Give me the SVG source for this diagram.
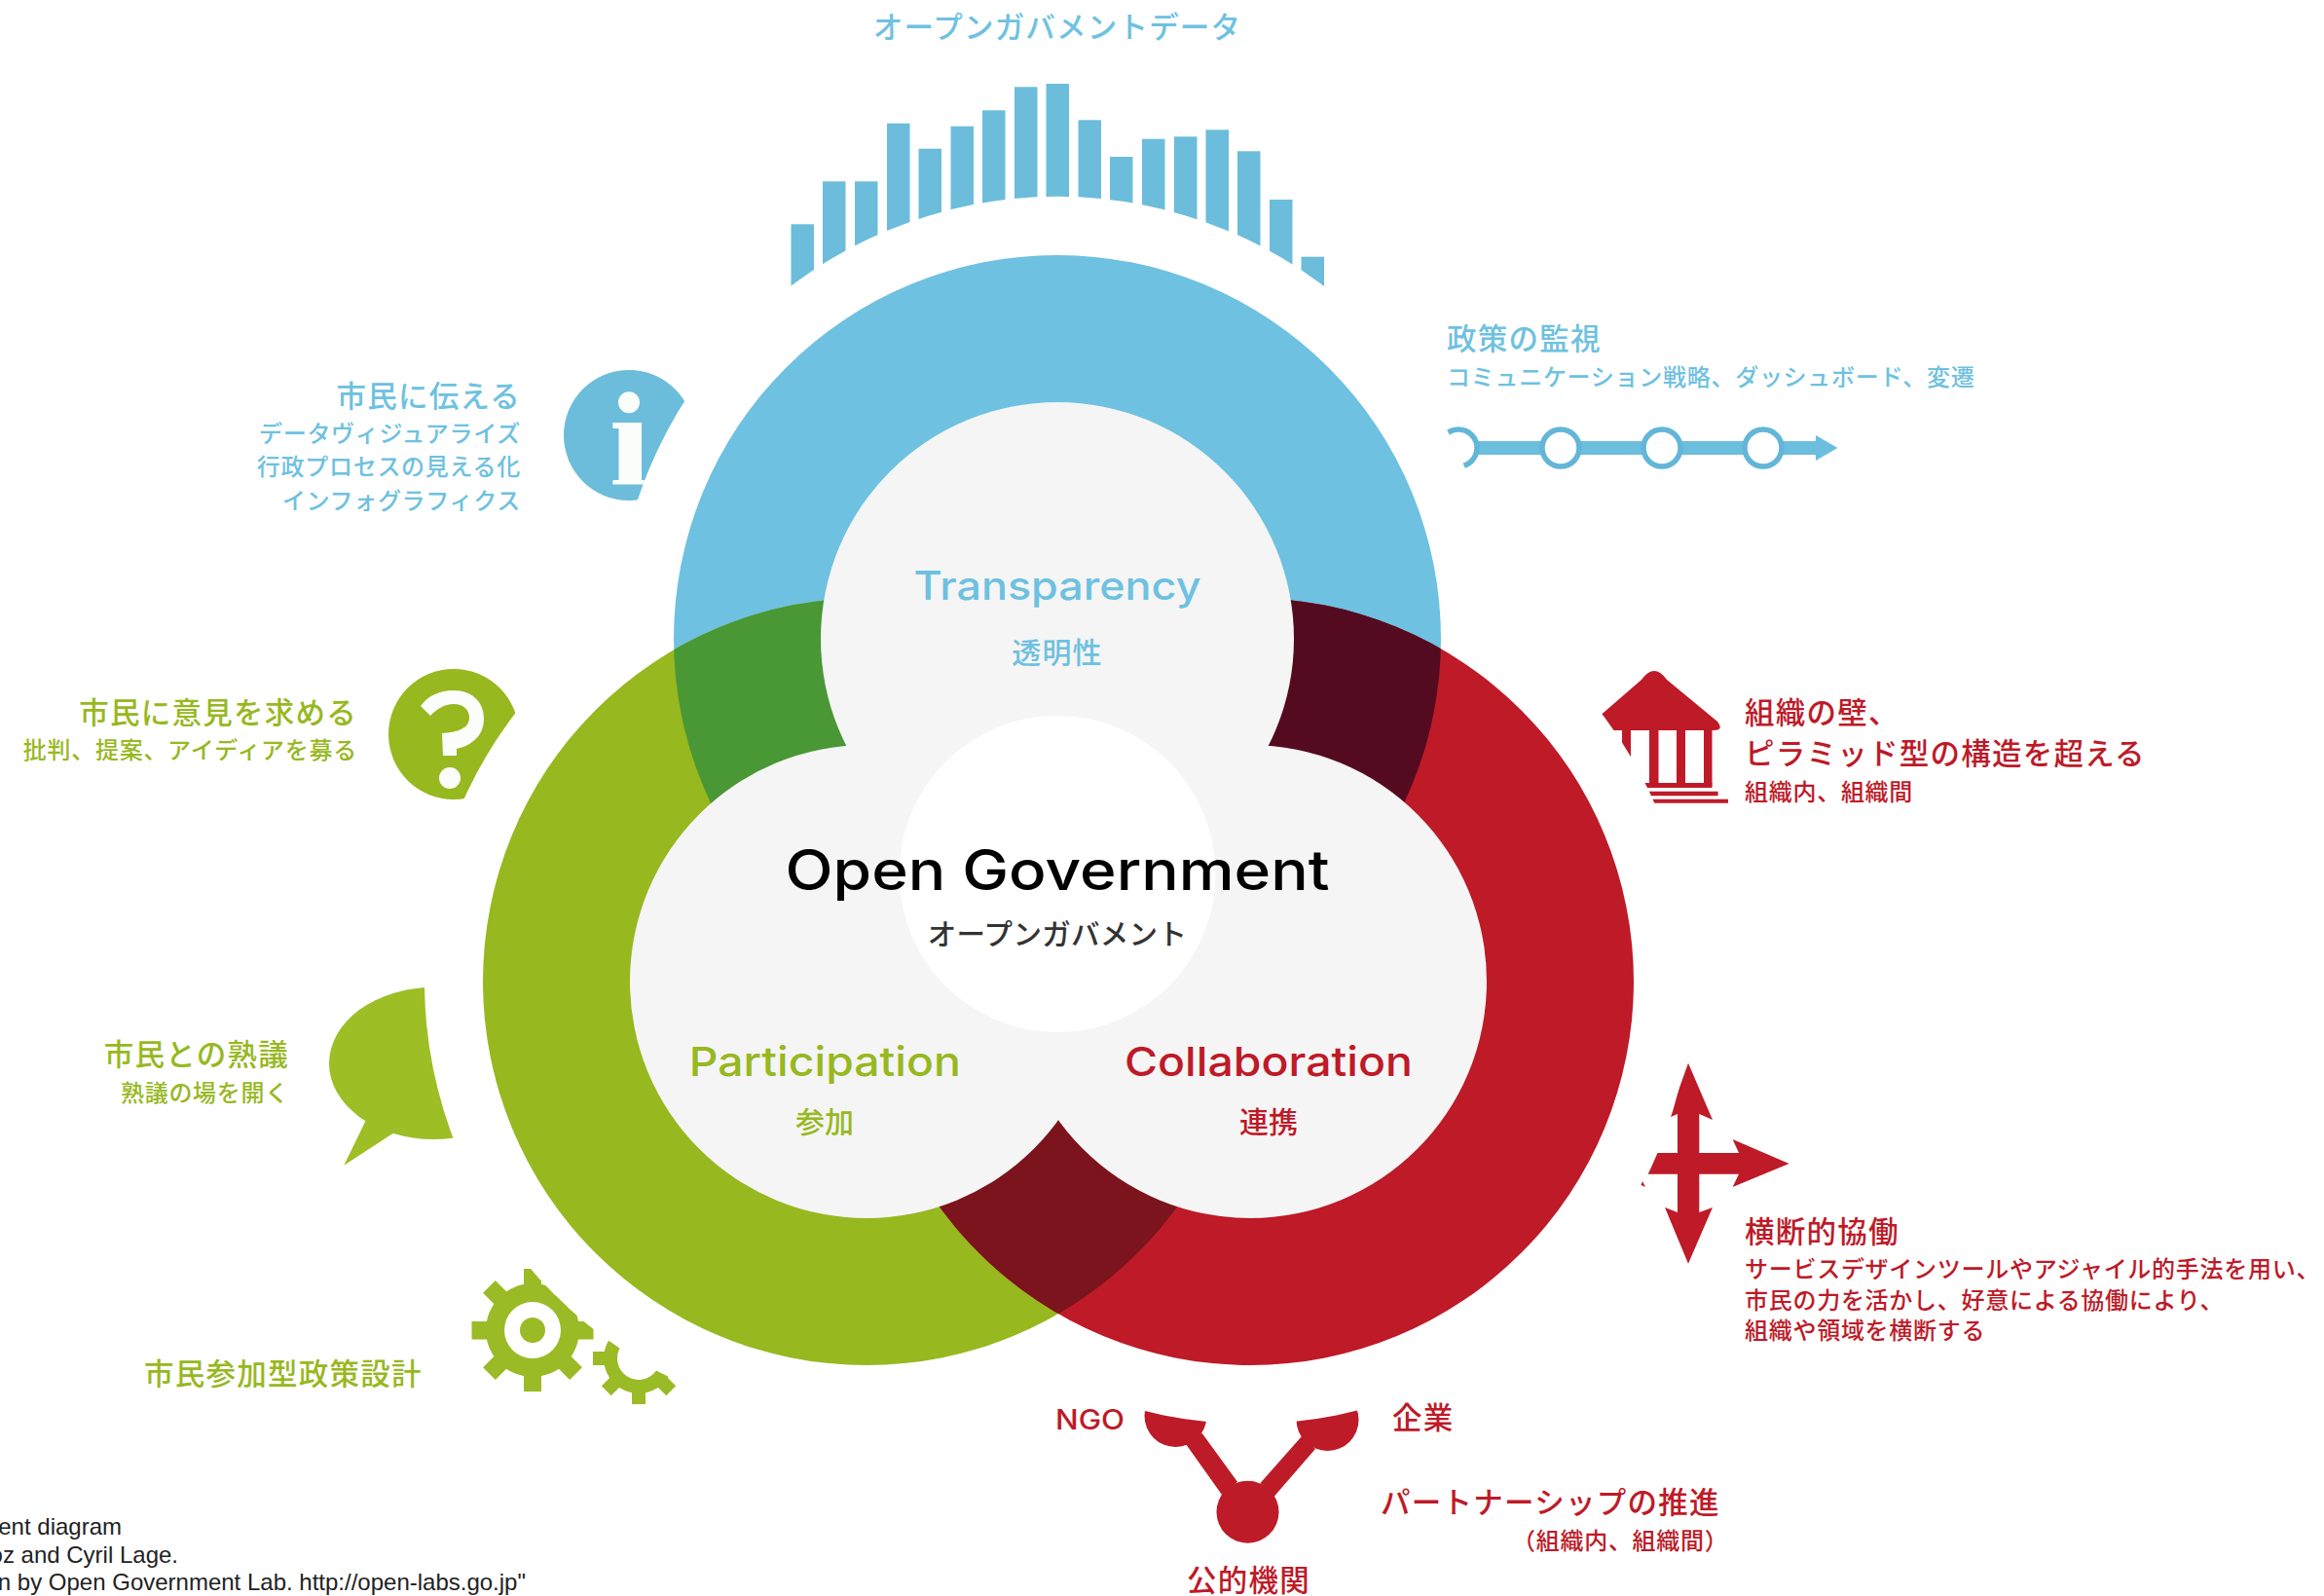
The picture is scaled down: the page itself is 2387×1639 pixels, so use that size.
<svg xmlns="http://www.w3.org/2000/svg" width="2387" height="1639" viewBox="0 0 2387 1639">
<style>
text{font-family:"Noto Sans CJK JP","Noto Sans",sans-serif;font-weight:500}
.l{font-size:30.5px;letter-spacing:1.25px}
.s{font-size:24px;letter-spacing:.72px}
.e{text-anchor:end}.m{text-anchor:middle}
.b{fill:#6ec1e0}.g{fill:#97b81f}.r{fill:#be1a28}
.lat{font-family:Inter,"Noto Sans",sans-serif;font-weight:500}
.cr{font-family:"Liberation Sans",Arial,sans-serif;font-weight:400;font-size:24px;fill:#222;text-anchor:end}
.wh{fill:#fff}.ic{fill:#fbfdfb}
.gw{fill:#f5f5f5}
</style>
<defs>
<clipPath id="inB"><circle cx="1086" cy="656" r="394"/></clipPath>
<clipPath id="inR"><circle cx="1284" cy="1008" r="394"/></clipPath>
<clipPath id="outB"><path clip-rule="evenodd" d="M0 0H2387V1639H0ZM632 656a454 454 0 1 0 908 0a454 454 0 1 0 -908 0Z"/></clipPath>
<clipPath id="outG"><path clip-rule="evenodd" d="M0 0H2387V1639H0ZM436 1008a454 454 0 1 0 908 0a454 454 0 1 0 -908 0Z"/></clipPath>
<clipPath id="outR"><path clip-rule="evenodd" d="M0 0H2387V1639H0ZM830 1008a454 454 0 1 0 908 0a454 454 0 1 0 -908 0Z"/></clipPath>
</defs>

<g id="venn">
<circle class="b" cx="1086" cy="656" r="394"/>
<circle class="g" cx="890" cy="1008" r="394"/>
<circle class="r" cx="1284" cy="1008" r="394"/>
<circle cx="890" cy="1008" r="394" fill="#4a9735" clip-path="url(#inB)"/>
<circle cx="1284" cy="1008" r="394" fill="#540b20" clip-path="url(#inB)"/>
<circle cx="890" cy="1008" r="394" fill="#7b141c" clip-path="url(#inR)"/>
<circle class="gw" cx="1086" cy="656" r="243"/>
<circle class="gw" cx="890" cy="1008" r="243"/>
<circle class="gw" cx="1284" cy="1008" r="243"/>
<path class="gw" d="M869 766L1303 766L1086 1150Z"/>
<circle class="wh" cx="1086" cy="897.500" r="162.500"/>
</g>

<g id="center-labels">
<text class="lat m" x="1086" y="616" font-size="40.500" textLength="295" lengthAdjust="spacingAndGlyphs" fill="#6ec1e0">Transparency</text>
<text class="m b" x="1086" y="681" font-size="30" letter-spacing="1.200">透明性</text>
<text class="lat m" x="1086" y="914" font-size="57" textLength="559" lengthAdjust="spacingAndGlyphs" fill="#000">Open Government</text>
<text class="m" x="1086" y="970" font-size="29.500" letter-spacing=".3" fill="#333">オープンガバメント</text>
<text class="lat m" x="847.300" y="1105" font-size="41" textLength="279" lengthAdjust="spacingAndGlyphs" fill="#97b81f">Participation</text>
<text class="m g" x="847" y="1163" font-size="30">参加</text>
<text class="lat m" x="1303" y="1105" font-size="41" textLength="296" lengthAdjust="spacingAndGlyphs" fill="#be1a28">Collaboration</text>
<text class="m r" x="1303" y="1163" font-size="30">連携</text>
</g>

<g id="open-data">
<text class="m" x="1086" y="39" font-size="30.500" letter-spacing="1.200" fill="#6ec1e0">オープンガバメントデータ</text>
<g fill="#6cbddb" clip-path="url(#outB)">
<rect x="812.500" y="230.300" width="23.500" height="80"/>
<rect x="845" y="186.300" width="23.500" height="120"/>
<rect x="878" y="186.300" width="23.500" height="120"/>
<rect x="911" y="126.700" width="23.500" height="150"/>
<rect x="943.500" y="152.700" width="23.500" height="120"/>
<rect x="976.500" y="129.700" width="23.500" height="120"/>
<rect x="1009" y="113.300" width="23.500" height="120"/>
<rect x="1042" y="89.300" width="23.500" height="130"/>
<rect x="1074.500" y="86" width="23.500" height="130"/>
<rect x="1107.500" y="123.300" width="23.500" height="100"/>
<rect x="1140" y="161" width="23.500" height="70"/>
<rect x="1173" y="142.700" width="23.500" height="100"/>
<rect x="1206" y="140.300" width="23.500" height="110"/>
<rect x="1238.500" y="133.300" width="23.500" height="130"/>
<rect x="1271" y="155.300" width="23.500" height="120"/>
<rect x="1304" y="205" width="23.500" height="110"/>
<rect x="1336.500" y="263.700" width="23.500" height="90"/>
</g>
</g>

<g id="monitoring">
<text class="l b" x="1486" y="359">政策の監視</text>
<text class="s b" x="1486" y="396">コミュニケーション戦略、ダッシュボード、変遷</text>
<g clip-path="url(#outB)">
<path fill="#6bbede" d="M1500 453H1865V447L1887.500 460L1865 473V467H1500Z"/>
<g fill="#fff" stroke="#62b6d8" stroke-width="5.500">
<circle cx="1498" cy="460" r="19"/>
<circle cx="1603" cy="460" r="19"/>
<circle cx="1707" cy="460" r="19"/>
<circle cx="1811" cy="460" r="19"/>
</g>
</g>
</g>

<g id="inform">
<text class="l b e" x="535" y="418">市民に伝える</text>
<text class="s b e" x="535" y="454">データヴィジュアライズ</text>
<text class="s b e" x="535" y="488">行政プロセスの見える化</text>
<text class="s b e" x="535" y="523">インフォグラフィクス</text>
<g clip-path="url(#outB)">
<ellipse cx="646" cy="447" rx="67" ry="67" fill="#6cbddb"/>
<ellipse class="ic" cx="646" cy="413.300" rx="11" ry="11"/>
<path class="ic" d="M629.400 434H659V493H662V497.500H629.400V493H635.500V440H629.400Z"/>
</g>
</g>

<g id="ask">
<text class="l g e" x="367" y="743">市民に意見を求める</text>
<text class="s g e" x="367" y="779">批判、提案、アイディアを募る</text>
<g clip-path="url(#outG)">
<circle class="g" cx="466" cy="754" r="67"/>
<path class="ic" d="M432 725C440 714 452 709 466 709C485 709 497 721 497 738C497 755 486 765 469 769L469 776L455 776L454 753C470 752 482 748 482 737C482 728 475 723 466 723C456 723 449 728 442 735Z"/>
<ellipse class="ic" cx="462" cy="799" rx="11" ry="11"/>
</g>
</g>

<g id="deliberation">
<text class="l e" x="297" y="1094" fill="#97b81f">市民との熟議</text>
<text class="s e" x="297" y="1131" fill="#97b81f">熟議の場を開く</text>
<g clip-path="url(#outG)" fill="#9dbe25">
<ellipse cx="445" cy="1092" rx="107" ry="78"/>
<path d="M376 1150L353.300 1196.700L405 1163Z"/>
</g>
</g>

<g id="policy-design">
<text class="l g" x="148" y="1422">市民参加型政策設計</text>
<g clip-path="url(#outG)" fill="#9abb25">
<circle cx="547" cy="1366" r="48"/>
<path d="M538 1303h18v126h-18zM484.500 1357h125v18.500h-125z"/>
<path d="M538 1303h18v126h-18z" transform="rotate(45 547 1366)"/>
<path d="M538 1303h18v126h-18z" transform="rotate(-45 547 1366)"/>
<circle class="wh" cx="547" cy="1366" r="29"/>
<circle cx="547" cy="1366" r="13"/>
<path fill-rule="evenodd" d="M620 1395a36 36 0 1 0 72 0a36 36 0 1 0 -72 0ZM634 1395a22 22 0 1 0 44 0a22 22 0 1 0 -44 0Z"/>
<path d="M649 1348h14v17h-14zM649 1425h14v17h-14zM609 1388h17v14h-17zM686 1388h17v14h-17z"/>
<path d="M649 1348h14v17h-14zM649 1425h14v17h-14z" transform="rotate(45 656 1395)"/>
<path d="M649 1348h14v17h-14zM649 1425h14v17h-14z" transform="rotate(-45 656 1395)"/>
</g>
</g>

<g id="wall">
<text class="l r" x="1792" y="743">組織の壁、</text>
<text class="l r" x="1792" y="785">ピラミッド型の構造を超える</text>
<text class="s r" x="1792" y="822">組織内、組織間</text>
<g clip-path="url(#outR)" class="r">
<path d="M1626 750L1686 698Q1699 680 1712 698L1764 741Q1771 750 1760 750Z"/>
<rect x="1666" y="745" width="9" height="40"/>
<rect x="1694" y="745" width="9.500" height="62"/>
<rect x="1722" y="745" width="9" height="62"/>
<rect x="1750" y="745" width="8.500" height="62"/>
<path d="M1689 804H1758.500V809H1691.500Z"/>
<path d="M1692.700 812.700H1764.600V817.300H1695Z"/>
<path d="M1696.500 820.700H1775V824.700H1698Z"/>
</g>
</g>

<g id="cross">
<text class="l r" x="1792" y="1276">横断的協働</text>
<text class="s r" x="1792" y="1312">サービスデザインツールやアジャイル的手法を用い、</text>
<text class="s r" x="1792" y="1344">市民の力を活かし、好意による協働により、</text>
<text class="s r" x="1792" y="1375">組織や領域を横断する</text>
<path clip-path="url(#outR)" class="r" d="M1734 1091.700L1759 1150L1745.300 1144V1184H1786L1779.600 1170L1837.600 1195L1779.600 1219L1786 1205.700H1745.300V1245L1759 1240L1734 1297.700L1710 1240L1723 1245V1205.700H1680V1184H1723V1144L1713.800 1148Z"/>
<path class="r" d="M1687 1213L1690 1219L1685.500 1217Z"/>
</g>

<g id="partnership">
<text class="lat" x="1084" y="1467.500" font-size="28" textLength="71" lengthAdjust="spacingAndGlyphs" fill="#be1a28">NGO</text>
<text class="l r" x="1430" y="1467">企業</text>
<text class="l r" x="1418" y="1554">パートナーシップの推進</text>
<text class="s r" x="1553" y="1591">（組織内、組織間）</text>
<text class="l r" x="1219" y="1634">公的機関</text>
<g clip-path="url(#outR)" fill="#bd1b27">
<circle cx="1207.500" cy="1454" r="32"/>
<circle cx="1363.500" cy="1458" r="32"/>
</g>
<path fill="#bd1b27" d="M1234.600 1471.700L1218 1483L1255 1535L1271 1521.700ZM1337 1475L1351 1488L1308.700 1536.700L1294.500 1523Z"/>
<circle cx="1281.500" cy="1552.700" r="32" fill="#bd1b27"/>
</g>

<g id="credit">
<text class="cr" x="125" y="1576">ent diagram</text>
<text class="cr" x="183" y="1605">oz and Cyril Lage.</text>
<text class="cr" x="540" y="1633">n by Open Government Lab. http://open-labs.go.jp"</text>
</g>
<g id="connectors"/>
</svg>
